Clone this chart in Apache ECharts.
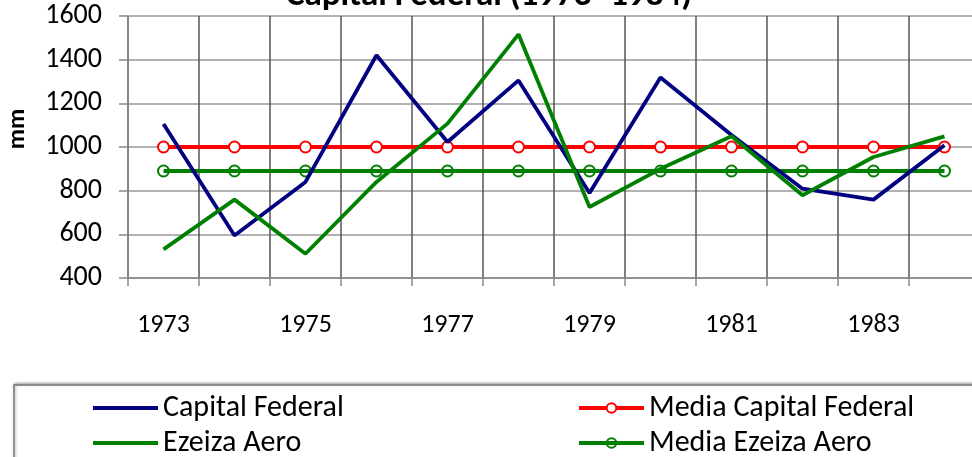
<!DOCTYPE html>
<html>
<head>
<meta charset="utf-8">
<script src="https://cdn.jsdelivr.net/npm/echarts@6/dist/echarts.min.js"></script>
<style>
html, body { margin: 0; padding: 0; background: #fff; }
#chart { width: 972px; height: 457px; }
</style>
</head>
<body>
<div id="chart"></div>
<script>
var years = ['1973', '1974', '1975', '1976', '1977', '1978', '1979', '1980', '1981', '1982', '1983', '1984'];
var capitalFederal = [1105, 595, 840, 1420, 1023, 1305, 789, 1318, 1055, 809, 759, 1008];
var ezeizaAero = [531, 759, 511, 840, 1107, 1516, 725, 900, 1049, 779, 954, 1049];
var mediaCapital = [1000, 1000, 1000, 1000, 1000, 1000, 1000, 1000, 1000, 1000, 1000, 1000];
var mediaEzeiza = [890, 890, 890, 890, 890, 890, 890, 890, 890, 890, 890, 890];
var yTicks = [400, 600, 800, 1000, 1200, 1400, 1600];

var font = "Carlito, 'Open Sans', sans-serif";

// one legend per entry so the two columns sit where the reference has them
function legendItem(name, icon, left, top, h) {
	return {
		data: [icon ? { name: name, icon: icon } : name],
		left: left,
		top: top,
		padding: 0,
		itemWidth: 65,
		itemHeight: h,
		lineStyle: { width: 4 },
		textStyle: { fontFamily: font, fontSize: 30, color: '#000' }
	};
}

function makeChart() {
	var myChart = echarts.init(document.getElementById('chart'));
	var option = {
		animation: false,
		title: {
			text: 'Capital Federal (1973- 1984)',
			left: 484,
			top: -26,
			textAlign: 'center',
			textStyle: { fontFamily: font, fontSize: 35, fontWeight: 'bold', color: '#000' }
		},
		grid: { left: 128, top: 16, width: 852, height: 262, outerBoundsMode: 'none', containLabel: false },
		graphic: [{
			type: 'rect',
			shape: { x: 14, y: 385, width: 990, height: 100 },
			style: { fill: '#fff', stroke: '#777', lineWidth: 1.5, shadowColor: 'rgba(0,0,0,0.35)', shadowBlur: 3, shadowOffsetX: 1, shadowOffsetY: -1 },
			z: -1
		}],
		legend: [
			legendItem('Capital Federal', 'rect', 93, 393, 4),
			legendItem('Ezeiza Aero', 'rect', 93, 428, 4),
			legendItem('Media Capital Federal', null, 577, 393, 12),
			legendItem('Media Ezeiza Aero', null, 577, 428, 12)
		],
		xAxis: {
			type: 'category',
			data: years,
			boundaryGap: true,
			axisLine: { lineStyle: { color: '#888', width: 1.5 } },
			axisTick: { show: true, interval: 0, length: 8, lineStyle: { color: '#888', width: 1.5 } },
			axisLabel: { interval: 1, margin: 34, fontFamily: font, fontSize: 26, color: '#000' },
			splitLine: { show: true, interval: 0, lineStyle: { color: '#555', width: 1.5 } }
		},
		yAxis: {
			type: 'value',
			min: yTicks[0],
			max: yTicks[yTicks.length - 1],
			interval: 200,
			name: 'mm',
			nameLocation: 'middle',
			nameGap: 98,
			nameTextStyle: { fontFamily: font, fontSize: 25, fontWeight: 'bold', color: '#000', padding: [0, 0, 0, 36] },
			axisLine: { show: true, lineStyle: { color: '#888', width: 1.5 } },
			axisTick: { show: true, length: 9, lineStyle: { color: '#888', width: 1.5 } },
			axisLabel: {
				margin: 26, fontFamily: font, fontSize: 28, color: '#000',
				formatter: function (v) { return String(v); }
			},
			splitLine: { show: true, lineStyle: { color: '#999', width: 1.5 } }
		},
		series: [{
			name: 'Capital Federal',
			type: 'line',
			data: capitalFederal,
			symbol: 'none',
			lineStyle: { color: '#000080', width: 3.8 },
			itemStyle: { color: '#000080' },
			z: 4
		}, {
			name: 'Ezeiza Aero',
			type: 'line',
			data: ezeizaAero,
			symbol: 'none',
			lineStyle: { color: '#008000', width: 3.8 },
			itemStyle: { color: '#008000' },
			z: 5
		}, {
			name: 'Media Capital Federal',
			type: 'line',
			data: mediaCapital,
			symbol: 'circle',
			symbolSize: 11,
			lineStyle: { color: '#ff0000', width: 3.8 },
			itemStyle: { color: '#fff', borderColor: '#ff0000', borderWidth: 2 },
			z: 3
		}, {
			name: 'Media Ezeiza Aero',
			type: 'line',
			data: mediaEzeiza,
			symbol: 'circle',
			symbolSize: 11,
			lineStyle: { color: '#008000', width: 3.8 },
			itemStyle: { color: 'rgba(255,255,255,0)', borderColor: '#008000', borderWidth: 2 },
			z: 3
		}]
	};
	myChart.setOption(option);
}
makeChart();
</script>
</body>
</html>
